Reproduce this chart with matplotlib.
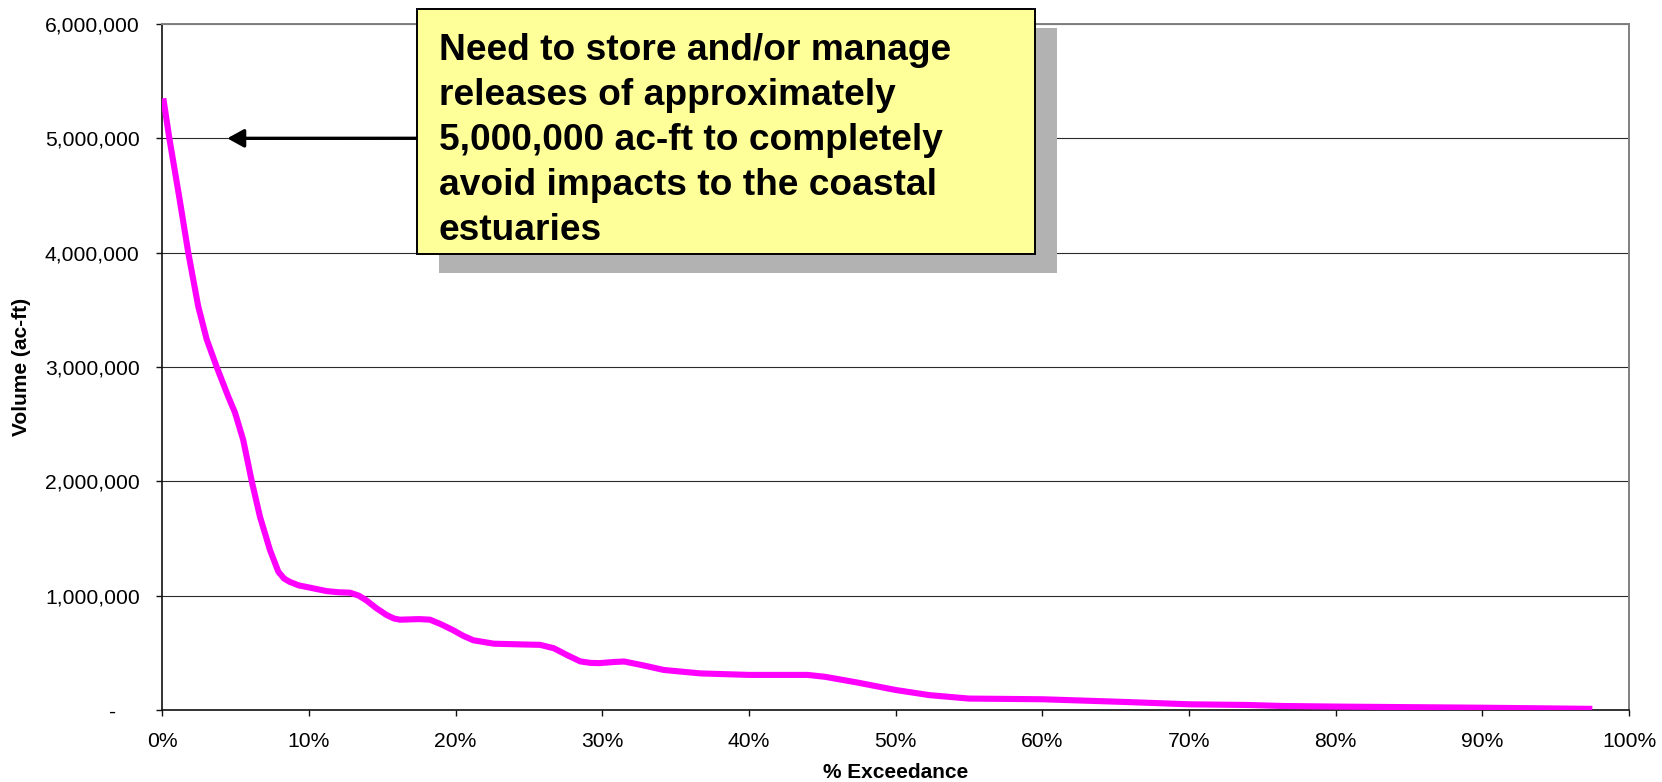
import matplotlib
matplotlib.use('Agg')
import matplotlib.pyplot as plt
from matplotlib.patches import Rectangle, FancyArrowPatch
from matplotlib.ticker import FuncFormatter

plt.rcParams['font.family'] = ['Liberation Sans', 'DejaVu Sans']

# Exceedance curve (percent of time exceeded vs. volume)
exceedance_pct = [0.07, 0.48, 1.15, 1.77, 2.45, 3.03, 3.71, 4.5, 4.96, 5.52,
                  6.1, 6.66, 7.34, 7.91, 8.3, 8.7, 9.3, 10.07, 11.2, 12.0,
                  12.8, 13.4, 13.9, 14.6, 15.3, 15.8, 16.2, 17.5, 18.25, 19.0,
                  19.8, 20.5, 21.2, 22.6, 25.0, 25.75, 26.7, 27.6, 28.5, 29.2,
                  29.8, 30.8, 31.5, 32.8, 34.2, 36.7, 40.0, 44.0, 45.2, 47.4,
                  50.0, 52.3, 55.0, 60.0, 65.7, 70.0, 74.0, 76.4, 80.0, 90.0,
                  97.5]
volume_acft = [5350000, 5000000, 4490000, 4000000, 3530000, 3240000, 3000000,
               2740000, 2600000, 2360000, 2000000, 1690000, 1400000, 1210000,
               1150000, 1120000, 1090000, 1070000, 1040000, 1030000, 1026000,
               1000000, 960000, 890000, 830000, 800000, 790000, 795000, 790000,
               750000, 700000, 650000, 610000, 580000, 572000, 570000, 540000,
               480000, 425000, 412000, 410000, 420000, 424000, 390000, 350000,
               320000, 307000, 307000, 290000, 240000, 175000, 130000, 100000,
               94000, 70000, 50000, 44000, 35000, 30000, 20000, 10000]

x_ticks = list(range(0, 101, 10))
y_ticks = [0, 1000000, 2000000, 3000000, 4000000, 5000000, 6000000]
note = ("Need to store and/or manage\n"
        "releases of approximately\n"
        "5,000,000 ac-ft to completely\n"
        "avoid impacts to the coastal\n"
        "estuaries")
target_volume = 5000000
arrow_tip_pct = 4.43

W, H = 1662, 782
fig = plt.figure(figsize=(W / 100, H / 100), dpi=100)
ax = fig.add_axes([162.3 / W, 1 - 710 / H, (1629 - 162.3) / W, (710 - 24) / H])

ax.plot(exceedance_pct, volume_acft, color='#FF00FF', linewidth=4.4,
        solid_joinstyle='round', solid_capstyle='butt', zorder=3)

ax.set_xlim(0, 100)
ax.set_ylim(0, 6000000)
ax.set_xticks(x_ticks)
ax.set_yticks(y_ticks)
ax.xaxis.set_major_formatter(FuncFormatter(lambda v, p: f'{v:.0f}%'))
ax.yaxis.set_major_formatter(
    FuncFormatter(lambda v, p: '-    ' if v == 0 else f'{v:,.0f}'))

ax.yaxis.grid(True, color='#2b2b2b', linewidth=0.8)
ax.set_axisbelow(True)
for side in ['left', 'bottom']:
    ax.spines[side].set_color('#111111')
    ax.spines[side].set_linewidth(1.2)
for side in ['top', 'right']:
    ax.spines[side].set_color('#808080')
    ax.spines[side].set_linewidth(1.4)

ax.tick_params(axis='both', direction='out', length=4.3, width=1.0,
               color='#111111', labelsize=15.2)
ax.tick_params(axis='y', pad=12)
ax.tick_params(axis='x', pad=11.5)

ax.set_xlabel('% Exceedance', fontsize=15, fontweight='bold', labelpad=9)
ax.set_ylabel('Volume (ac-ft)', fontsize=15, fontweight='bold')
ax.yaxis.set_label_coords(-0.096, 0.5)
ax.yaxis.label.set_va('center')

# arrow pointing at the 5,000,000 ac-ft level
arrow_tip = ax.transData.transform((arrow_tip_pct, target_volume))
arrow_tip = fig.transFigure.inverted().transform(arrow_tip)
arrow = FancyArrowPatch(posA=(420 / W, 1 - 138.3 / H), posB=tuple(arrow_tip),
                        transform=fig.transFigure,
                        arrowstyle='-|>,head_length=1.0,head_width=0.55',
                        mutation_scale=10, linewidth=2.4, color='black',
                        shrinkA=0, shrinkB=0, zorder=4)
fig.add_artist(arrow)

# callout box with drop shadow
shadow = Rectangle((439 / W, 1 - 272.7 / H), (1057 - 439) / W, (272.7 - 28) / H,
                   transform=fig.transFigure, facecolor='#B2B2B2',
                   edgecolor='none', zorder=5)
box = Rectangle((417.3 / W, 1 - 254 / H), (1035 - 417.3) / W, (254 - 9) / H,
                transform=fig.transFigure, facecolor='#FFFF99',
                edgecolor='black', linewidth=1.4, zorder=6)
fig.add_artist(shadow)
fig.add_artist(box)
fig.text(439 / W, 1 - 33 / H, note, fontsize=26.7, fontweight='bold',
         ha='left', va='top', linespacing=1.37, zorder=7)

fig.savefig('out.png', dpi=100, facecolor='white')
